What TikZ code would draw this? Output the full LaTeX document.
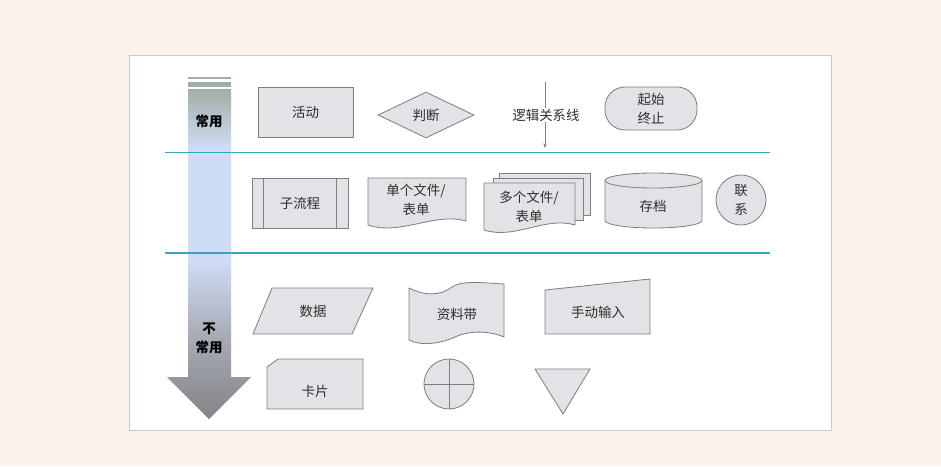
\documentclass[tikz,border=0pt]{standalone}
\usepackage{fontspec}
\newfontfamily\cjk{Noto Sans CJK SC}
\usetikzlibrary{shapes.geometric, arrows.meta}
\definecolor{pagecream}{HTML}{FBF3EC}
\definecolor{panelline}{HTML}{C8C8C8}
\definecolor{shapefill}{HTML}{E2E2E7}
\definecolor{shapeline}{HTML}{7F7F7F}
\definecolor{tealrule}{HTML}{3AA6BE}
\definecolor{labeltext}{HTML}{2E2E2E}
\definecolor{arrowtop}{HTML}{A2AEA5}
\definecolor{arrowblue}{HTML}{CFDCF6}
\definecolor{arrowmid}{HTML}{A9ADB8}
\definecolor{arrowbot}{HTML}{848486}
\pgfdeclareverticalshading{usageshade}{100bp}{color(0bp)=(arrowbot); color(25bp)=(arrowbot); color(38bp)=(arrowmid); color(49bp)=(arrowblue); color(66bp)=(arrowblue); color(75bp)=(arrowtop); color(100bp)=(arrowtop)}

\begin{document}
\begin{tikzpicture}[x=0.03cm, y=-0.03cm, >={Stealth[length=4pt,width=3pt]},
  shapebox/.style={draw=shapeline, fill=shapefill, line width=0.7pt},
  labeltxt/.style={text=labeltext, font=\cjk\fontsize{11.5}{16}\selectfont, align=center, inner sep=1pt},
  usagetxt/.style={text=black, font=\cjk\bfseries\fontsize{11.5}{16}\selectfont, align=center, inner sep=1pt},
  lanesep/.style={tealrule, line width=1pt}]
  % Page and panel
  \fill[pagecream] (0,0) rectangle (941,466);
  \useasboundingbox (0,0) rectangle (941,466);
  \draw[panelline, fill=white] (129,55) rectangle (831,430);
  % Usage arrow
  \fill[arrowtop] (188,76.5) rectangle (231,79);
  \fill[arrowtop] (188,81.5) rectangle (231,87);
  \shade[shading=usageshade] (188,89) -- (231,89) -- (231,377) -- (251,377) -- (209,419) -- (167,377) -- (188,377) -- cycle;
  \node[usagetxt] (often) at (209,121) {常用};
  \node[usagetxt] (seldom) at (209,338) {不\\常用};
  % Lane separators
  \coordinate (laneAw) at (165,152.5);
  \coordinate (laneAe) at (770,152.5);
  \coordinate (laneBw) at (165,253);
  \coordinate (laneBe) at (770,253);
  \draw[lanesep] (laneAw) -- (laneAe);
  \draw[lanesep] (laneBw) -- (laneBe);
  % Common shapes
  \node[shapebox, labeltxt, minimum width=2.85cm, minimum height=1.5cm] (activity) at (305.5,112) {活动};
  \node[shapebox, labeltxt, diamond, aspect=2, inner sep=0pt, minimum width=2.88cm, minimum height=1.38cm] (decision) at (426,115) {判断};
  \coordinate (logictop) at (545,82);
  \coordinate (logicbot) at (545,148);
  \draw[->, shapeline, line width=0.6pt] (logictop) -- (logicbot);
  \node[labeltxt, fill=white] (logic) at (546,115) {逻辑关系线};
  \node[shapebox, labeltxt, rounded corners=0.6cm, minimum width=2.76cm, minimum height=1.29cm] (terminal) at (651,108.5) {起始\\终止};
  % Sub process
  \node[shapebox, labeltxt, minimum width=2.88cm, minimum height=1.5cm] (subproc) at (300,203) {子流程};
  \draw[shapeline, line width=0.7pt] ([xshift=0.36cm]subproc.north west) -- ([xshift=0.36cm]subproc.south west);
  \draw[shapeline, line width=0.7pt] ([xshift=-0.36cm]subproc.north east) -- ([xshift=-0.36cm]subproc.south east);
  % Single document
  \draw[shapebox] (368,178) -- (466,178) -- (466,221) .. controls (435,212) and (400,236) .. (368,225) -- cycle;
  \node[labeltxt] (singledoc) at (416,200) {单个文件/\\表单};
  % Multiple documents
  \draw[shapebox] (499,173) rectangle (590,215);
  \draw[shapebox] (493,178) rectangle (583,220);
  \draw[shapebox] (484,183) -- (575,183) -- (575,225) .. controls (545,216) and (515,240) .. (484,230) -- cycle;
  \node[labeltxt] (multidoc) at (529,207) {多个文件/\\表单};
  % Archive cylinder
  \draw[shapebox] (605,180.5) -- (605,220.5) arc[start angle=180, end angle=360, x radius=1.455cm, y radius=0.225cm] -- (702,180.5) arc[start angle=0, end angle=180, x radius=1.455cm, y radius=0.225cm] -- cycle;
  \draw[shapeline, line width=0.7pt] (605,180.5) arc[start angle=180, end angle=360, x radius=1.455cm, y radius=0.225cm];
  \node[labeltxt] (archive) at (653,206) {存档};
  \node[shapebox, labeltxt, circle, minimum size=1.5cm, inner sep=0pt] (connector) at (741,200) {联\\系};
  % Rare shapes
  \draw[shapebox] (272,288) -- (373,288) -- (352,334) -- (253,334) -- cycle;
  \node[labeltxt] (data) at (313,311) {数据};
  \draw[shapebox] (409,288) .. controls (425,296) and (440,296) .. (452,287) .. controls (462,280) and (485,283) .. (504,284) -- (504,337) .. controls (490,331) and (470,330) .. (455,337) .. controls (440,344) and (420,346) .. (409,340) -- cycle;
  \node[labeltxt] (tape) at (457,314) {资料带};
  \draw[shapebox] (545,290) -- (650,279) -- (650,334) -- (545,334) -- cycle;
  \node[labeltxt] (manual) at (598,312) {手动输入};
  \draw[shapebox] (278,359) -- (363,359) -- (363,409) -- (267,409) -- (267,367) -- cycle;
  \node[labeltxt] (card) at (315,391) {卡片};
  \node[shapebox, circle, minimum size=1.5cm, inner sep=0pt] (summing) at (449,384) {};
  \draw[shapeline, line width=0.7pt] (summing.north) -- (summing.south);
  \draw[shapeline, line width=0.7pt] (summing.west) -- (summing.east);
  \draw[shapebox] (535,369) -- (590,369) -- (563,414) -- cycle;
\end{tikzpicture}
\end{document}
